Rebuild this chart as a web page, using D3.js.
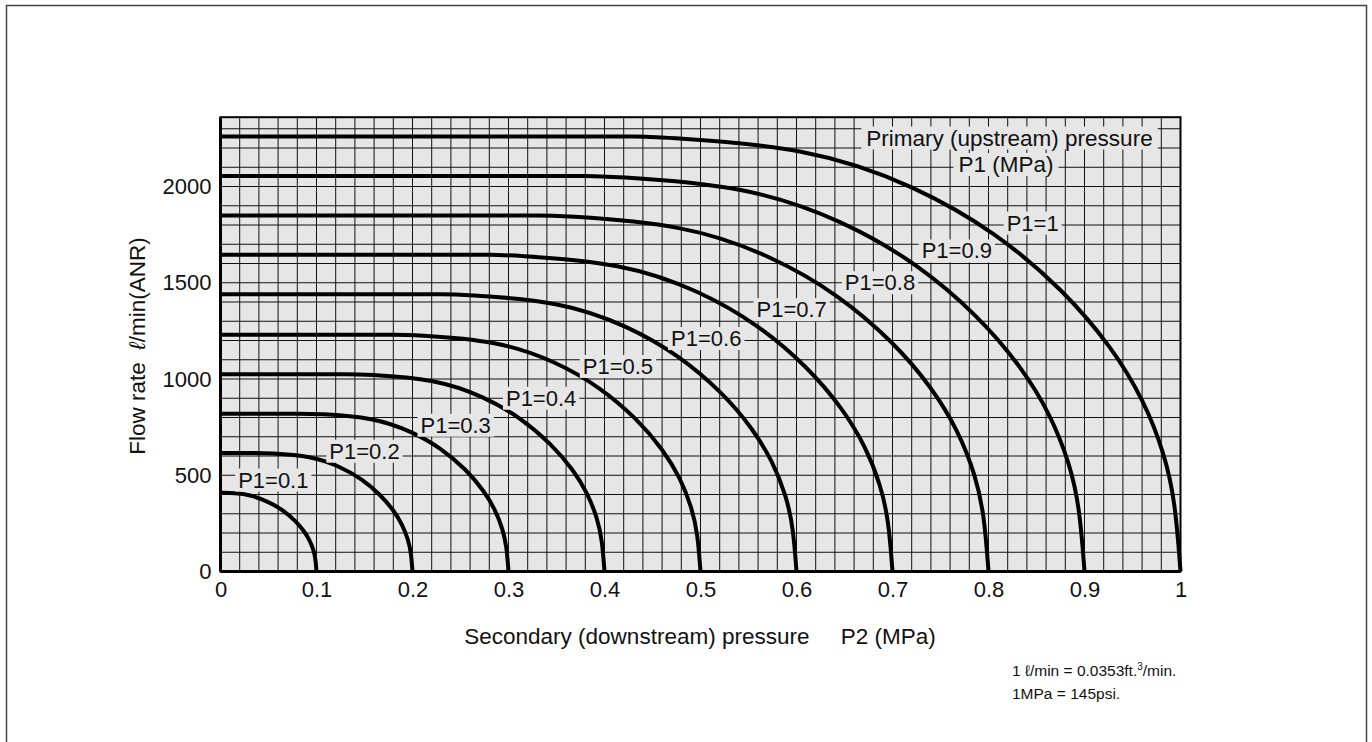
<!DOCTYPE html>
<html>
<head>
<meta charset="utf-8">
<script src="https://cdn.jsdelivr.net/npm/d3@7"></script>
<style>
  html, body { margin: 0; padding: 0; background: #fff; }
  svg { display: block; }
  text { font-family: "Liberation Sans", Arial, Helvetica, sans-serif; fill: #111; }
</style>
</head>
<body>
<svg id="chart" width="1372" height="742"></svg>
<script>
// ---- data ----
const xTicks = [0, 0.1, 0.2, 0.3, 0.4, 0.5, 0.6, 0.7, 0.8, 0.9, 1];
const xTickLabels = ["0", "0.1", "0.2", "0.3", "0.4", "0.5", "0.6", "0.7", "0.8", "0.9", "1"];
const yTicks = [0, 500, 1000, 1500, 2000];
const yTickLabels = ["0", "500", "1000", "1500", "2000"];

const p1Labels = ["P1=0.1", "P1=0.2", "P1=0.3", "P1=0.4", "P1=0.5", "P1=0.6", "P1=0.7", "P1=0.8", "P1=0.9", "P1=1"];

// P2 (MPa) / flow (l/min) sample points along each curve
const p2_01 = [0, 0.015, 0.03, 0.05, 0.065, 0.078, 0.087, 0.093, 0.097, 0.099, 0.1];
const q_01  = [410, 407, 400, 363, 320, 264, 211, 162, 111, 66, 0];
const p2_02 = [0, 0.02, 0.035, 0.05, 0.095, 0.125, 0.1475, 0.167, 0.1805, 0.1895, 0.1955, 0.1985, 0.2];
const q_02  = [615, 615, 615, 615, 600, 544, 480, 397, 317, 243, 166, 98, 0];
const p2_03 = [0, 0.06, 0.08, 0.1, 0.16, 0.2, 0.23, 0.256, 0.274, 0.286, 0.294, 0.298, 0.3];
const q_03  = [820, 820, 820, 820, 800, 726, 640, 529, 422, 324, 221, 131, 0];
const p2_04 = [0, 0.11, 0.13, 0.15, 0.225, 0.275, 0.3125, 0.345, 0.3675, 0.3825, 0.3925, 0.3975, 0.4];
const q_04  = [1025, 1025, 1025, 1025, 999, 907, 800, 661, 528, 405, 277, 164, 0];
const p2_05 = [0, 0.16, 0.18, 0.2, 0.29, 0.35, 0.395, 0.434, 0.461, 0.479, 0.491, 0.497, 0.5];
const q_05  = [1230, 1230, 1230, 1230, 1199, 1089, 959, 793, 633, 486, 332, 197, 0];
const p2_06 = [0, 0.21, 0.23, 0.25, 0.355, 0.425, 0.4775, 0.523, 0.5545, 0.5755, 0.5895, 0.5965, 0.6];
const q_06  = [1440, 1440, 1440, 1440, 1404, 1274, 1123, 929, 742, 569, 389, 230, 0];
const p2_07 = [0, 0.26, 0.28, 0.3, 0.42, 0.5, 0.56, 0.612, 0.648, 0.672, 0.688, 0.696, 0.7];
const q_07  = [1645, 1645, 1645, 1645, 1604, 1456, 1283, 1061, 847, 650, 444, 263, 0];
const p2_08 = [0, 0.31, 0.33, 0.35, 0.485, 0.575, 0.6425, 0.701, 0.7415, 0.7685, 0.7865, 0.7955, 0.8];
const q_08  = [1850, 1850, 1850, 1850, 1804, 1637, 1443, 1193, 953, 731, 500, 296, 0];
const p2_09 = [0, 0.36, 0.38, 0.4, 0.55, 0.65, 0.725, 0.79, 0.835, 0.865, 0.885, 0.895, 0.9];
const q_09  = [2055, 2055, 2055, 2055, 2004, 1819, 1603, 1325, 1058, 812, 555, 329, 0];
const p2_10 = [0, 0.41, 0.43, 0.45, 0.615, 0.725, 0.8075, 0.879, 0.9285, 0.9615, 0.9835, 0.9945, 1];
const q_10  = [2260, 2260, 2260, 2260, 2204, 2000, 1763, 1458, 1164, 893, 610, 362, 0];

// label anchor positions in data units (P2, Q)
const labelP2 = [0.055, 0.15, 0.245, 0.334, 0.414, 0.506, 0.595, 0.687, 0.767, 0.846];
const labelQ  = [475, 625, 760, 900, 1065, 1210, 1360, 1500, 1665, 1810];

const curves = [
  [p2_01, q_01], [p2_02, q_02], [p2_03, q_03], [p2_04, q_04], [p2_05, q_05],
  [p2_06, q_06], [p2_07, q_07], [p2_08, q_08], [p2_09, q_09], [p2_10, q_10]
].map(([xs, ys]) => xs.map((x, i) => [x, ys[i]]));

// ---- layout ----
const svg = d3.select("#chart");
const x = d3.scaleLinear().domain([0, 1]).range([220.5, 1180.5]);
const y = d3.scaleLinear().domain([0, 2300]).range([571.5, 128.75]);
const yTop = 2360;

// outer frame
svg.append("rect")
  .attr("x", 6.5).attr("y", 5.5).attr("width", 1360).attr("height", 760)
  .attr("fill", "none").attr("stroke", "#444").attr("stroke-width", 1.5);

// plot background
svg.append("rect")
  .attr("x", x(0)).attr("y", y(yTop))
  .attr("width", x(1) - x(0)).attr("height", y(0) - y(yTop))
  .attr("fill", "#e6e6e6");

// grid
const grid = svg.append("g");
const vx = d3.range(0, 51).map(i => i / 50);
grid.selectAll("line.v").data(vx).join("line")
  .attr("x1", d => x(d)).attr("x2", d => x(d))
  .attr("y1", y(yTop)).attr("y2", y(0))
  .attr("stroke", "#111").attr("stroke-width", 1);
const hy = d3.range(0, 24).map(i => i * 100);
grid.selectAll("line.h").data(hy).join("line")
  .attr("x1", x(0)).attr("x2", x(1))
  .attr("y1", d => y(d)).attr("y2", d => y(d))
  .attr("stroke", "#111").attr("stroke-width", 1);

// curves
const line = d3.line()
  .x(d => x(d[0])).y(d => y(d[1]))
  .curve(d3.curveBasis);
svg.append("g").selectAll("path").data(curves).join("path")
  .attr("d", line)
  .attr("fill", "none").attr("stroke", "#000").attr("stroke-width", 4)
  .attr("stroke-linejoin", "round");

// curve labels with background
function boxedText(g, tx, ty, str, size, padX, padY) {
  const t = g.append("text").attr("x", tx).attr("y", ty)
    .attr("text-anchor", "middle").attr("dominant-baseline", "central")
    .style("font-size", size + "px").text(str);
  const bb = t.node().getBBox();
  g.insert("rect", "text")
    .attr("x", bb.x - padX).attr("y", bb.y - padY)
    .attr("width", bb.width + 2 * padX).attr("height", bb.height + 2 * padY)
    .attr("fill", "#e6e6e6");
}
const lg = svg.append("g");
p1Labels.forEach((s, i) => {
  const g = lg.append("g");
  boxedText(g, x(labelP2[i]), y(labelQ[i]), s, 22, 3, -1);
});
const tg = svg.append("g");
boxedText(tg.append("g"), 1009.5, 138, "Primary (upstream) pressure", 22.5, 5, -1);
boxedText(tg.append("g"), 1006, 164.5, "P1 (MPa)", 22.5, 5, -1);

// plot frame
svg.append("rect")
  .attr("x", x(0)).attr("y", y(yTop))
  .attr("width", x(1) - x(0)).attr("height", y(0) - y(yTop))
  .attr("fill", "none").attr("stroke", "#000").attr("stroke-width", 2);
svg.append("line").attr("x1", x(0)).attr("x2", x(1)).attr("y1", y(0)).attr("y2", y(0))
  .attr("stroke", "#000").attr("stroke-width", 3);
svg.append("line").attr("x1", x(0)).attr("x2", x(0)).attr("y1", y(yTop)).attr("y2", y(0))
  .attr("stroke", "#000").attr("stroke-width", 3);

// axes (labels only)
const xAxis = d3.axisBottom(x).tickValues(xTicks)
  .tickFormat((d, i) => xTickLabels[i]).tickSize(0).tickPadding(10);
const gx = svg.append("g").attr("transform", `translate(0,${y(0)})`).call(xAxis);
gx.select(".domain").remove();
gx.selectAll("text").style("font-size", "22px").attr("fill", "#111")
  .style("font-family", '"Liberation Sans", Arial, sans-serif');

const yAxis = d3.axisLeft(y).tickValues(yTicks)
  .tickFormat((d, i) => yTickLabels[i]).tickSize(0).tickPadding(9);
const gy = svg.append("g").attr("transform", `translate(${x(0)},0)`).call(yAxis);
gy.select(".domain").remove();
gy.selectAll("text").style("font-size", "22px").attr("fill", "#111")
  .style("font-family", '"Liberation Sans", Arial, sans-serif');

// axis titles
svg.append("text").attr("x", 700).attr("y", 644).attr("text-anchor", "middle")
  .style("font-size", "22.5px").attr("xml:space", "preserve")
  .text("Secondary (downstream) pressure     P2 (MPa)");
const yt = svg.append("text").attr("transform", "translate(145,346) rotate(-90)")
  .attr("text-anchor", "middle").style("font-size", "22.5px").attr("xml:space", "preserve");
yt.append("tspan").text("Flow rate  ");
yt.append("tspan").style("font-style", "italic").text("ℓ");
yt.append("tspan").text("/min(ANR)");

// footnotes
const fn = svg.append("text").attr("x", 1012).attr("y", 676).style("font-size", "15.5px");
fn.append("tspan").text("1 ℓ/min = 0.0353ft.");
fn.append("tspan").attr("dy", -6).style("font-size", "10px").text("3");
fn.append("tspan").attr("dy", 6).text("/min.");
svg.append("text").attr("x", 1012).attr("y", 699).style("font-size", "15.5px").text("1MPa = 145psi.");
</script>
</body>
</html>
